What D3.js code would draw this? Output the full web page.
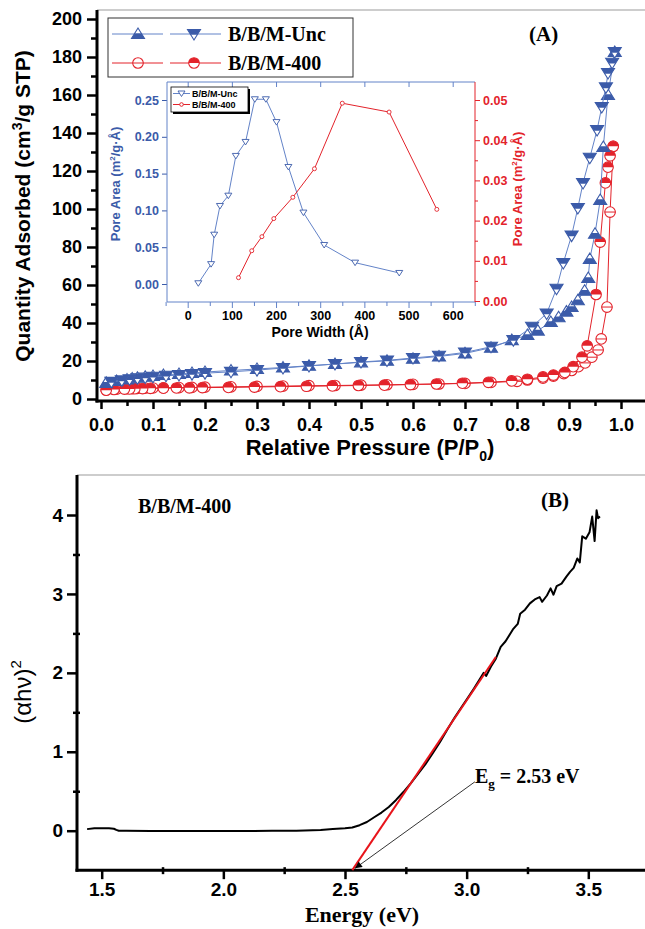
<!DOCTYPE html>
<html>
<head>
<meta charset="utf-8">
<script src="https://cdn.jsdelivr.net/npm/d3@7"></script>
<style>
body { margin: 0; background: #fff; }
svg { display: block; }
</style>
</head>
<body>
<svg id="chart" width="645" height="929"></svg>
<script>
// ---- panel A: N2 isotherms ----
var uncAdsP = [0.01, 0.03, 0.05, 0.06, 0.07, 0.085, 0.10, 0.12, 0.15, 0.175, 0.20, 0.25, 0.30, 0.35, 0.40, 0.45, 0.50, 0.55, 0.60, 0.65, 0.70, 0.75, 0.79, 0.82, 0.84, 0.865, 0.88, 0.895, 0.905, 0.917, 0.93, 0.937, 0.94, 0.95, 0.96, 0.966, 0.975, 0.988];
var uncAdsQ = [8.5, 9.5, 10.3, 10.8, 11.2, 11.7, 12.1, 12.6, 13.2, 13.7, 14.2, 15.0, 15.8, 16.6, 17.5, 18.4, 19.3, 20.1, 21.2, 22.4, 24.0, 27.0, 31.0, 33.7, 36.0, 40.5, 43.0, 46.0, 48.4, 52.0, 57.0, 63.7, 73.7, 87.0, 104.7, 132.6, 160.0, 182.6];
var uncDesP = [0.988, 0.983, 0.975, 0.971, 0.963, 0.954, 0.94, 0.927, 0.917, 0.905, 0.889, 0.876, 0.857, 0.829, 0.793, 0.75, 0.70, 0.65, 0.60, 0.55, 0.50, 0.45, 0.40, 0.35, 0.30, 0.25, 0.20, 0.175, 0.15, 0.125, 0.10, 0.085, 0.07, 0.055, 0.04, 0.02];
var uncDesQ = [182.6, 177.0, 171.6, 164.0, 153.7, 141.6, 127.0, 113.7, 100.5, 86.0, 71.6, 58.0, 45.0, 38.0, 31.0, 27.5, 24.5, 22.8, 21.6, 20.3, 19.5, 18.4, 17.4, 16.3, 15.2, 14.3, 13.6, 13.1, 12.6, 12.2, 11.7, 11.3, 10.9, 10.4, 9.8, 9.0];
var c400AdsP = [0.01, 0.03, 0.05, 0.06, 0.07, 0.085, 0.10, 0.12, 0.15, 0.175, 0.20, 0.25, 0.30, 0.35, 0.40, 0.45, 0.50, 0.55, 0.60, 0.65, 0.70, 0.75, 0.80, 0.82, 0.85, 0.87, 0.89, 0.905, 0.918, 0.931, 0.944, 0.956, 0.962, 0.973, 0.979, 0.985];
var c400AdsQ = [4.8, 5.2, 5.4, 5.5, 5.6, 5.7, 5.8, 5.9, 6.0, 6.1, 6.2, 6.4, 6.6, 6.8, 7.0, 7.1, 7.3, 7.5, 7.7, 7.9, 8.2, 8.7, 9.3, 10.0, 11.0, 12.0, 13.4, 15.0, 17.0, 19.0, 22.0, 25.8, 31.6, 48.4, 98.4, 133.0];
var c400DesP = [0.985, 0.979, 0.975, 0.97, 0.96, 0.952, 0.935, 0.925, 0.908, 0.892, 0.87, 0.85, 0.82, 0.79, 0.745, 0.695, 0.645, 0.595, 0.545, 0.495, 0.445, 0.395, 0.345, 0.295, 0.245, 0.195, 0.17, 0.145, 0.12, 0.095, 0.08, 0.065, 0.055, 0.045, 0.025, 0.01];
var c400DesQ = [133.0, 128.0, 122.0, 113.7, 82.6, 55.0, 28.0, 22.0, 17.0, 14.0, 12.6, 11.6, 10.4, 9.5, 8.8, 8.3, 7.9, 7.6, 7.3, 7.1, 6.9, 6.7, 6.5, 6.3, 6.1, 6.0, 5.9, 5.8, 5.7, 5.6, 5.5, 5.4, 5.3, 5.2, 5.0, 4.6];

// ---- inset: pore area distribution ----
var uncPoreW = [24, 53, 60, 73, 92, 109, 131, 152, 177, 201, 228, 262, 309, 379, 479];
var uncPoreA = [0.001, 0.027, 0.067, 0.106, 0.120, 0.174, 0.193, 0.251, 0.251, 0.220, 0.159, 0.097, 0.053, 0.029, 0.015];
var c400PoreW = [115, 145, 168, 195, 238, 287, 350, 456, 564];
var c400PoreA = [0.0058, 0.0125, 0.016, 0.0205, 0.0258, 0.0329, 0.0492, 0.047, 0.0228];

// ---- panel B: Tauc plot ----
var energy = [1.44, 1.47, 1.50, 1.53, 1.55, 1.56, 1.57, 1.60, 1.70, 1.80, 1.90, 2.00, 2.10, 2.20, 2.30, 2.40, 2.45, 2.50, 2.53, 2.56, 2.59, 2.62, 2.65, 2.68, 2.71, 2.74, 2.77, 2.80, 2.83, 2.86, 2.89, 2.92, 2.95, 2.98, 3.00, 3.03, 3.06, 3.07, 3.08, 3.10, 3.12, 3.14, 3.16, 3.19, 3.21, 3.22, 3.24, 3.26, 3.28, 3.30, 3.31, 3.33, 3.345, 3.357, 3.37, 3.39, 3.41, 3.425, 3.44, 3.455, 3.465, 3.475, 3.49, 3.505, 3.516, 3.526, 3.534, 3.54, 3.548];
var ahv2 = [0.02, 0.03, 0.03, 0.03, 0.025, 0.01, 0.0, 0.0, -0.005, -0.005, -0.005, -0.005, -0.005, 0.0, 0.0, 0.01, 0.02, 0.03, 0.04, 0.07, 0.11, 0.17, 0.23, 0.30, 0.39, 0.49, 0.60, 0.72, 0.84, 0.98, 1.12, 1.28, 1.43, 1.57, 1.66, 1.80, 1.95, 2.00, 1.96, 2.08, 2.18, 2.33, 2.40, 2.55, 2.62, 2.75, 2.80, 2.88, 2.93, 2.96, 2.90, 2.98, 3.07, 2.99, 3.10, 3.13, 3.22, 3.28, 3.33, 3.45, 3.40, 3.73, 3.70, 3.78, 3.98, 3.67, 4.06, 3.96, 3.98];
var tangent = [[2.53, -0.5], [3.12, 2.2]];
var arrowFromTo = [[3.034, 0.62], [2.541, -0.477]];

var svg = d3.select("#chart");
var blue = "#3b5ba9", blueLine = "#6383c8", red = "#e3232b";
var sans = "'Liberation Sans', Arial, sans-serif";
var serif = "'Liberation Serif', 'Times New Roman', serif";
var noLabel = function () { return ""; };

function styleAxis(g, color, width, font) {
    g.select(".domain").remove();
    g.selectAll(".tick line").attr("stroke", color).attr("stroke-width", width);
    if (font) {
        g.selectAll(".tick text").attr("fill", color).style("font", font);
    } else {
        g.selectAll(".tick text").remove();
    }
}

// ================= PANEL A =================
var xA = d3.scaleLinear().domain([0, 1]).range([101, 621]);
var yA = d3.scaleLinear().domain([0, 200]).range([399, 19]);

svg.append("line").attr("x1", 97).attr("x2", 645).attr("y1", 10).attr("y2", 10)
    .attr("stroke", "#bdbdbd").attr("stroke-width", 1.5);

var ay = svg.append("g").attr("transform", "translate(97,0)")
    .call(d3.axisLeft(yA).tickValues(d3.range(0, 201, 20)).tickSize(10).tickPadding(5));
styleAxis(ay, "#000", 2.5, "bold 18px " + sans);
var ayMinor = svg.append("g").attr("transform", "translate(97,0)")
    .call(d3.axisLeft(yA).tickValues(d3.range(10, 200, 20)).tickSize(6).tickFormat(noLabel));
styleAxis(ayMinor, "#000", 2.5, null);

var ax = svg.append("g").attr("transform", "translate(0,401)")
    .call(d3.axisBottom(xA).tickValues(d3.range(0, 11).map(function (i) { return i / 10; }))
        .tickSize(8).tickPadding(9).tickFormat(d3.format(".1f")));
styleAxis(ax, "#000", 2.5, "bold 18px " + sans);
var axMinor = svg.append("g").attr("transform", "translate(0,401)")
    .call(d3.axisBottom(xA).tickValues(d3.range(0, 10).map(function (i) { return i / 10 + 0.05; }))
        .tickSize(5).tickFormat(noLabel));
styleAxis(axMinor, "#000", 2.5, null);

svg.append("line").attr("x1", 97).attr("x2", 97).attr("y1", 10).attr("y2", 402.5)
    .attr("stroke", "#000").attr("stroke-width", 3);
svg.append("line").attr("x1", 95.5).attr("x2", 645).attr("y1", 401).attr("y2", 401)
    .attr("stroke", "#000").attr("stroke-width", 3);

// axis titles
var ylA = svg.append("text").attr("transform", "translate(30,206) rotate(-90)")
    .attr("text-anchor", "middle").style("font", "bold 21px " + sans);
ylA.append("tspan").text("Quantity Adsorbed (cm");
ylA.append("tspan").text("3").attr("dy", -8).style("font-size", "14px");
ylA.append("tspan").text("/g STP)").attr("dy", 8);

var xlA = svg.append("text").attr("x", 370).attr("y", 455)
    .attr("text-anchor", "middle").style("font", "bold 22px " + sans);
xlA.append("tspan").text("Relative Pressure (P/P");
xlA.append("tspan").text("0").attr("dy", 6).style("font-size", "14px");
xlA.append("tspan").text(")").attr("dy", -6);

svg.append("text").attr("x", 529).attr("y", 41).text("(A)")
    .style("font", "bold 21px " + serif);

// markers
function triUp(sel, color) {
    sel.append("path").attr("d", "M0,-6L6.5,4.5L-6.5,4.5Z").attr("fill", "#fff")
        .attr("stroke", color).attr("stroke-width", 1.1);
    sel.append("path").attr("d", "M-3.25,-0.75L3.25,-0.75L6.5,4.5L-6.5,4.5Z").attr("fill", color);
}
function triDown(sel, color) {
    sel.append("path").attr("d", "M0,6L6.5,-4.5L-6.5,-4.5Z").attr("fill", "#fff")
        .attr("stroke", color).attr("stroke-width", 1.1);
    sel.append("path").attr("d", "M-3.25,0.75L3.25,0.75L6.5,-4.5L-6.5,-4.5Z").attr("fill", color);
}
function circOpen(sel, color) {
    sel.append("circle").attr("r", 5.3).attr("fill", "#fff").attr("stroke", color).attr("stroke-width", 1.1);
    sel.append("line").attr("x1", -5.3).attr("x2", 5.3).attr("stroke", color).attr("stroke-width", 1);
}
function circHalf(sel, color) {
    sel.append("circle").attr("r", 5.3).attr("fill", "#fff").attr("stroke", color).attr("stroke-width", 1.1);
    sel.append("path").attr("d", "M-5.3,0A5.3,5.3 0 0 1 5.3,0Z").attr("fill", color);
}

function series(px, qy, color, marker) {
    var pts = px.map(function (p, i) { return [p, qy[i]]; });
    var line = d3.line().x(function (d) { return xA(d[0]); }).y(function (d) { return yA(d[1]); });
    svg.append("path").datum(pts).attr("d", line).attr("fill", "none")
        .attr("stroke", color === blue ? blueLine : red).attr("stroke-width", 1);
    svg.append("g").selectAll("g").data(pts).enter().append("g")
        .attr("transform", function (d) { return "translate(" + xA(d[0]) + "," + yA(d[1]) + ")"; })
        .each(function () { marker(d3.select(this), color); });
}
series(c400AdsP, c400AdsQ, red, circOpen);
series(c400DesP, c400DesQ, red, circHalf);
series(uncAdsP, uncAdsQ, blue, triUp);
series(uncDesP, uncDesQ, blue, triDown);

// legend A
var leg = svg.append("g");
leg.append("rect").attr("x", 108).attr("y", 18).attr("width", 245).attr("height", 59)
    .attr("fill", "#fff").attr("stroke", "#333").attr("stroke-width", 1);
[[blue, triUp, triDown, "B/B/M-Unc", 34], [red, circOpen, circHalf, "B/B/M-400", 63]].forEach(function (r) {
    var lc = r[0] === blue ? blueLine : red;
    leg.append("line").attr("x1", 112).attr("x2", 163).attr("y1", r[4]).attr("y2", r[4]).attr("stroke", lc);
    leg.append("line").attr("x1", 170).attr("x2", 221).attr("y1", r[4]).attr("y2", r[4]).attr("stroke", lc);
    r[1](leg.append("g").attr("transform", "translate(138," + r[4] + ")"), r[0]);
    r[2](leg.append("g").attr("transform", "translate(194," + r[4] + ")"), r[0]);
    leg.append("text").attr("x", 228).attr("y", r[4] + 7).text(r[3])
        .style("font", "bold 20px " + serif);
});

// ================= INSET =================
var xI = d3.scaleLinear().domain([0, 600]).range([187.7, 452.7]);
var yIL = d3.scaleLinear().domain([0, 0.25]).range([284, 100]);
var yIR = d3.scaleLinear().domain([0, 0.05]).range([301, 100]);
var inL = 167, inR = 475, inT = 82, inB = 302;
var fI = "bold 12.5px " + sans;

var ib = svg.append("g").attr("transform", "translate(0," + inB + ")")
    .call(d3.axisBottom(xI).tickValues(d3.range(0, 601, 100)).tickSize(6).tickPadding(3));
styleAxis(ib, "#000", 1, fI);
ib.selectAll(".tick line").attr("stroke", blueLine);
var ibm = svg.append("g").attr("transform", "translate(0," + inB + ")")
    .call(d3.axisBottom(xI).tickValues([-50, 50, 150, 250, 350, 450, 550, 650]).tickSize(4).tickFormat(noLabel));
styleAxis(ibm, blueLine, 1, null);
var it = svg.append("g").attr("transform", "translate(0," + inT + ")")
    .call(d3.axisBottom(xI).tickValues(d3.range(0, 601, 100)).tickSize(5).tickFormat(noLabel));
styleAxis(it, blueLine, 1, null);
var il = svg.append("g").attr("transform", "translate(" + inL + ",0)")
    .call(d3.axisLeft(yIL).tickValues(d3.range(0, 6).map(function (i) { return i * 0.05; }))
        .tickSize(5).tickPadding(3).tickFormat(d3.format(".2f")));
styleAxis(il, blue, 1, fI);
var ir = svg.append("g").attr("transform", "translate(" + inR + ",0)")
    .call(d3.axisRight(yIR).tickValues(d3.range(0, 6).map(function (i) { return i * 0.01; }))
        .tickSize(5).tickPadding(3).tickFormat(d3.format(".2f")));
styleAxis(ir, red, 1, fI);
var irm = svg.append("g").attr("transform", "translate(" + inR + ",0)")
    .call(d3.axisRight(yIR).tickValues(d3.range(0, 5).map(function (i) { return i * 0.01 + 0.005; }))
        .tickSize(3).tickFormat(noLabel));
styleAxis(irm, red, 1, null);

svg.append("line").attr("x1", inL).attr("x2", inR).attr("y1", inT).attr("y2", inT).attr("stroke", blueLine);
svg.append("line").attr("x1", inL).attr("x2", inR).attr("y1", inB).attr("y2", inB).attr("stroke", blueLine);
svg.append("line").attr("x1", inL).attr("x2", inL).attr("y1", inT).attr("y2", inB).attr("stroke", blueLine);
svg.append("line").attr("x1", inR).attr("x2", inR).attr("y1", inT).attr("y2", inB).attr("stroke", red);

var uncPts = uncPoreW.map(function (w, i) { return [w, uncPoreA[i]]; });
var c400Pts = c400PoreW.map(function (w, i) { return [w, c400PoreA[i]]; });
svg.append("path").datum(uncPts).attr("fill", "none").attr("stroke", blueLine).attr("stroke-width", 1)
    .attr("d", d3.line().x(function (d) { return xI(d[0]); }).y(function (d) { return yIL(d[1]); }));
svg.append("g").selectAll("path").data(uncPts).enter().append("path")
    .attr("d", "M0,3L3.5,-2.5L-3.5,-2.5Z").attr("fill", "#fff").attr("stroke", blue).attr("stroke-width", 0.9)
    .attr("transform", function (d) { return "translate(" + xI(d[0]) + "," + yIL(d[1]) + ")"; });
svg.append("path").datum(c400Pts).attr("fill", "none").attr("stroke", red).attr("stroke-width", 1)
    .attr("d", d3.line().x(function (d) { return xI(d[0]); }).y(function (d) { return yIR(d[1]); }));
svg.append("g").selectAll("circle").data(c400Pts).enter().append("circle")
    .attr("r", 2).attr("fill", "#fff").attr("stroke", red).attr("stroke-width", 0.9)
    .attr("cx", function (d) { return xI(d[0]); }).attr("cy", function (d) { return yIR(d[1]); });

// inset titles
var ilt = svg.append("text").attr("transform", "translate(120,184) rotate(-90)")
    .attr("text-anchor", "middle").attr("fill", blue).style("font", "bold 13px " + sans);
ilt.append("tspan").text("Pore Area (m");
ilt.append("tspan").text("2").attr("dy", -5).style("font-size", "8px");
ilt.append("tspan").text("/g\u00b7\u00c5)").attr("dy", 5);
var irt = svg.append("text").attr("transform", "translate(522,189) rotate(-90)")
    .attr("text-anchor", "middle").attr("fill", red).style("font", "bold 13px " + sans);
irt.append("tspan").text("Pore Area (m");
irt.append("tspan").text("2").attr("dy", -5).style("font-size", "8px");
irt.append("tspan").text("/g\u00b7\u00c5)").attr("dy", 5);
svg.append("text").attr("x", 320).attr("y", 337).attr("text-anchor", "middle")
    .text("Pore Width (\u00c5)").style("font", "bold 14px " + sans);

// inset legend
var il2 = svg.append("g");
il2.append("rect").attr("x", 173).attr("y", 89).attr("width", 77).attr("height", 25).attr("fill", "#000");
il2.append("rect").attr("x", 171).attr("y", 87).attr("width", 77).attr("height", 25)
    .attr("fill", "#fff").attr("stroke", "#000").attr("stroke-width", 0.8);
il2.append("line").attr("x1", 173).attr("x2", 190).attr("y1", 93.5).attr("y2", 93.5).attr("stroke", blueLine);
il2.append("path").attr("d", "M0,3L3.5,-2.5L-3.5,-2.5Z").attr("fill", "#fff").attr("stroke", blue)
    .attr("stroke-width", 0.9).attr("transform", "translate(181.5,93.5)");
il2.append("line").attr("x1", 173).attr("x2", 190).attr("y1", 104.5).attr("y2", 104.5).attr("stroke", red);
il2.append("circle").attr("cx", 181.5).attr("cy", 104.5).attr("r", 1.8).attr("fill", "#fff").attr("stroke", red);
il2.append("text").attr("x", 192).attr("y", 97).text("B/B/M-Unc").style("font", "bold 9px " + sans);
il2.append("text").attr("x", 192).attr("y", 108).text("B/B/M-400").style("font", "bold 9px " + sans);

// ================= PANEL B =================
var xB = d3.scaleLinear().domain([1.5, 3.5]).range([101.7, 588.3]);
var yB = d3.scaleLinear().domain([0, 4]).range([830.7, 515]);
var bBot = yB(-0.5), bLeft = 77;

svg.append("line").attr("x1", bLeft).attr("x2", 645).attr("y1", 475).attr("y2", 475)
    .attr("stroke", "#bdbdbd").attr("stroke-width", 1.5);

var by = svg.append("g").attr("transform", "translate(" + bLeft + ",0)")
    .call(d3.axisLeft(yB).tickValues([0, 1, 2, 3, 4]).tickSize(10).tickPadding(4).tickFormat(d3.format("d")));
styleAxis(by, "#000", 2.5, "bold 19px " + sans);
var bym = svg.append("g").attr("transform", "translate(" + (bLeft + 3) + ",0)")
    .call(d3.axisLeft(yB).tickValues([0.5, 1.5, 2.5, 3.5]).tickSize(7).tickFormat(noLabel));
styleAxis(bym, "#000", 2.5, null);
var bx = svg.append("g").attr("transform", "translate(0," + bBot + ")")
    .call(d3.axisBottom(xB).tickValues([1.5, 2.0, 2.5, 3.0, 3.5]).tickSize(9).tickPadding(3).tickFormat(d3.format(".1f")));
styleAxis(bx, "#000", 2.5, "bold 19px " + sans);
var bxm = svg.append("g").attr("transform", "translate(0," + (bBot - 3) + ")")
    .call(d3.axisBottom(xB).tickValues([1.75, 2.25, 2.75, 3.25]).tickSize(7).tickFormat(noLabel));
styleAxis(bxm, "#000", 2.5, null);

svg.append("line").attr("x1", bLeft).attr("x2", bLeft).attr("y1", 475).attr("y2", bBot + 1.5)
    .attr("stroke", "#000").attr("stroke-width", 3);
svg.append("line").attr("x1", bLeft - 1.5).attr("x2", 645).attr("y1", bBot).attr("y2", bBot)
    .attr("stroke", "#000").attr("stroke-width", 3);

var taucPts = energy.map(function (e, i) { return [e, ahv2[i]]; });
var lineB = d3.line().x(function (d) { return xB(d[0]); }).y(function (d) { return yB(d[1]); });
svg.append("path").datum(taucPts).attr("d", lineB).attr("fill", "none")
    .attr("stroke", "#000").attr("stroke-width", 2).attr("stroke-linejoin", "round");
svg.append("path").datum(tangent).attr("d", lineB).attr("fill", "none")
    .attr("stroke", "#e8141b").attr("stroke-width", 2);

svg.append("defs").append("marker").attr("id", "ah").attr("viewBox", "0 0 10 10")
    .attr("refX", 10).attr("refY", 5).attr("markerWidth", 9).attr("markerHeight", 7)
    .attr("markerUnits", "userSpaceOnUse").attr("orient", "auto")
    .append("path").attr("d", "M0,0L10,5L0,10Z").attr("fill", "#000");
svg.append("path").datum(arrowFromTo).attr("d", lineB).attr("fill", "none")
    .attr("stroke", "#000").attr("stroke-width", 0.8).attr("marker-end", "url(#ah)");

var eg = svg.append("text").attr("x", 475).attr("y", 783).style("font", "bold 20px " + serif);
eg.append("tspan").text("E");
eg.append("tspan").text("g").attr("dy", 5).style("font-size", "13px");
eg.append("tspan").text(" = 2.53 eV").attr("dy", -5);

svg.append("text").attr("x", 138).attr("y", 513).text("B/B/M-400").style("font", "bold 20px " + serif);
svg.append("text").attr("x", 541).attr("y", 507).text("(B)").style("font", "bold 21px " + serif);

svg.append("text").attr("x", 362).attr("y", 922).attr("text-anchor", "middle")
    .text("Energy (eV)").style("font", "bold 22px " + serif);

var ylB = svg.append("text").attr("transform", "translate(31,692) rotate(-90)")
    .attr("text-anchor", "middle").style("font", "24px " + sans);
ylB.append("tspan").text("(\u03b1h\u03bd)");
ylB.append("tspan").text("2").attr("dy", -10).style("font-size", "15px");
</script>
</body>
</html>
